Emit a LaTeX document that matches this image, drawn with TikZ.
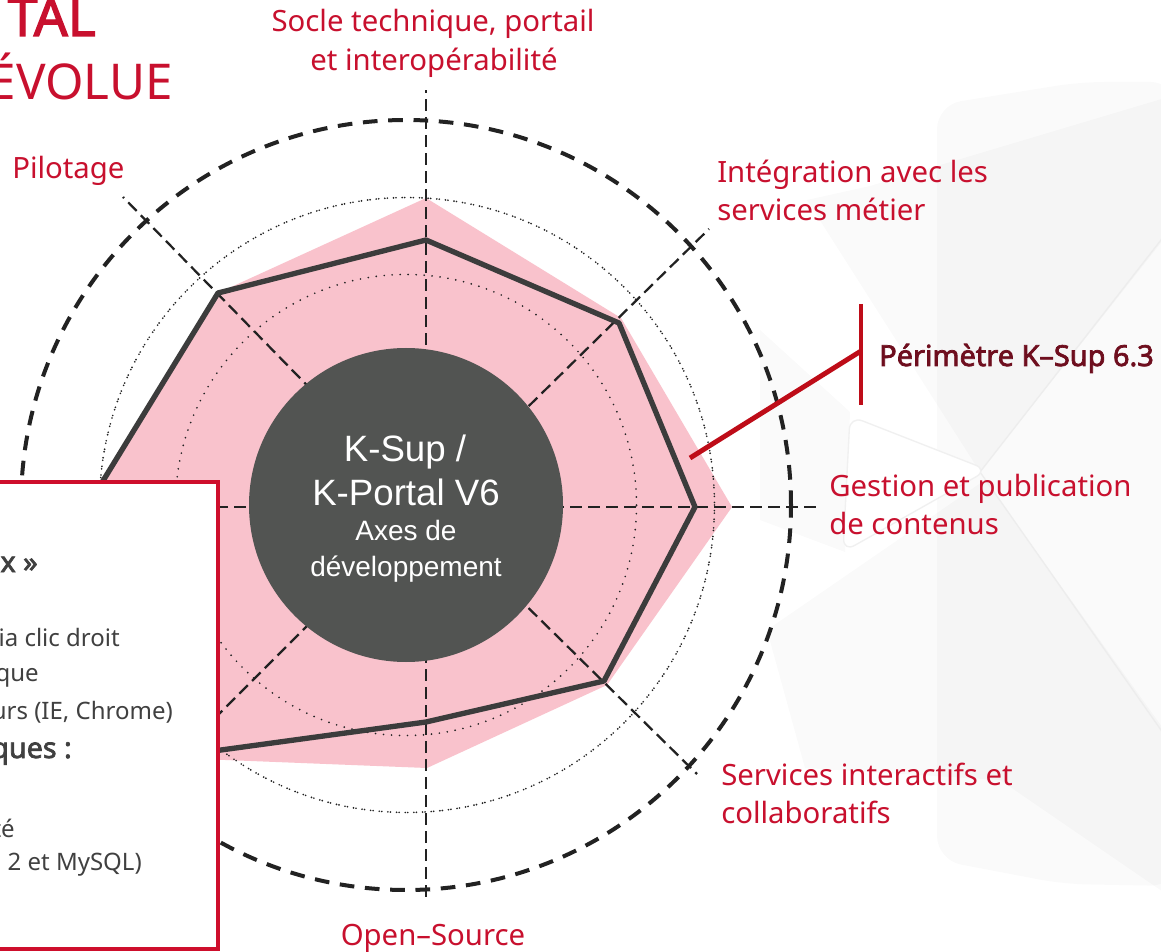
\documentclass[tikz,border=0pt]{standalone}
\usepackage{fontspec}
\setmainfont{Noto Sans}
\newfontfamily\nbold{Noto Sans}[FakeBold=2.5]
\newfontfamily\hubfont{Liberation Sans}
\definecolor{lab}{RGB}{200,16,46}
\definecolor{boxred}{RGB}{206,14,44}
\definecolor{perim}{RGB}{110,14,30}
\definecolor{brk}{RGB}{190,12,24}
\definecolor{pinkfill}{RGB}{249,194,204}
\definecolor{hubgray}{RGB}{82,84,82}
\definecolor{polyline}{RGB}{60,60,60}
\definecolor{ink}{RGB}{34,34,34}
\definecolor{bodytxt}{RGB}{64,64,64}
\begin{document}
\begin{tikzpicture}[x=0.75pt,y=-0.75pt,
  lbl/.style={inner sep=0pt, text=lab, font=\fontsize{22}{26}\selectfont},
  boxtxt/.style={inner sep=0pt, anchor=base east, text=bodytxt, font=\fontsize{18}{22}\selectfont},
  boxbold/.style={inner sep=0pt, anchor=base east, text=bodytxt, font=\nbold\fontsize{21.5}{24}\selectfont},
  hubtxt/.style={inner sep=0pt, anchor=base, text=white},
  axisline/.style={draw=ink, line width=1.7pt, dash pattern=on 9pt off 4.5pt},
  ringline/.style={draw=ink, line width=3pt, dash pattern=on 11pt off 8pt},
  wm/.style={fill=black, fill opacity=0.018, draw=none},
]
\path[use as bounding box] (0,0) rectangle (1161,952);
\clip (0,0) rectangle (1161,952);
\fill[white] (0,0) rectangle (1161,952);

% faint watermark logo
\path[wm, rounded corners=18pt] (937,105) -- (1080,82) -- (1175,82) -- (1175,886) -- (1063,884) -- (937,860) -- cycle;
\path[wm] (807,200) -- (870,186) -- (1175,95) -- (1175,225) -- (980,472) -- cycle;
\path[wm] (767,630) -- (985,480) -- (1175,745) -- (1175,900) -- (1000,780) -- (805,768) -- cycle;
\path[wm] (760,330) -- (850,412) -- (845,552) -- (760,520) -- cycle;
\draw[black!7, line width=1pt] (980,472) -- (1175,222);
\draw[black!7, line width=1pt] (980,472) -- (1175,750);
\draw[black!6, fill=white, line width=1pt, rounded corners=10pt] (850,416) -- (988,470) -- (843,552) -- cycle;

% centre of the axes
\coordinate (O) at (426,507);
\coordinate (aN) at (426,90);
\coordinate (aNE) at (709,229);
\coordinate (aE) at (822,507);
\coordinate (aSE) at (697,774);
\coordinate (aS) at (426,903);
\coordinate (aSW) at (150,783);
\coordinate (aW) at (150,507);
\coordinate (aNW) at (123,197);

% pink area
\fill[pinkfill] (426,198) -- (621,318) -- (732,507) -- (607,685) -- (427,768) -- (175,758) -- (87,507) -- (218,293) -- cycle;

% dotted rings
\draw[ink, line width=1.4pt, line cap=round, dash pattern=on 0pt off 6pt] (406,505) circle[radius=172.9pt];
\draw[ink, line width=1.4pt, line cap=round, dash pattern=on 0pt off 1.9pt on 0pt off 4.6pt] (407,505) circle[radius=230.6pt];

% axes
\foreach \e in {aN,aNE,aE,aSE,aS,aSW,aW,aNW} \draw[axisline] (O) -- (\e);

% dark polygon
\draw[polyline, line width=4pt, line join=round] (426,240) -- (619,323) -- (695,507) -- (604,681) -- (426,722) -- (177,756) -- (87,507) -- (218,293) -- cycle;

% hub
\node[circle, fill=hubgray, minimum size=235.5pt, inner sep=0pt] (hub) at (406,505) {};
\node[hubtxt, font=\hubfont\fontsize{27.5}{30}\selectfont] (h1) at (405,461) {K-Sup /};
\node[hubtxt, font=\hubfont\fontsize{27.5}{30}\selectfont] (h2) at (406,505) {K-Portal V6};
\node[hubtxt, font=\hubfont\fontsize{21}{24}\selectfont] (h3) at (406,540) {Axes de};
\node[hubtxt, font=\hubfont\fontsize{21}{24}\selectfont] (h4) at (406,576) {développement};

% outer dashed ring
\draw[ringline] (406,505) circle[radius=288.75pt];

% perimeter bracket
\coordinate (pstart) at (690,458);
\coordinate (pjoin) at (861,351);
\coordinate (ptop) at (861,304);
\coordinate (pbot) at (861,405);
\draw[brk, line width=3.7pt] (pstart) -- (pjoin);
\draw[brk, line width=3.7pt] (ptop) -- (pbot);
\node[inner sep=0pt, anchor=base west, text=perim, font=\nbold\fontsize{21.7}{26}\selectfont] (perimlbl) at (879,366) {Périmètre K–Sup 6.3};

% left text box
\draw[boxred, fill=white, line width=3.4pt] (-30,482) rectangle (218,949);
\node[boxbold] (b1) at (38,572) {x »};
\node[boxtxt] (b2) at (120,646) {via clic droit};
\node[boxtxt] (b3) at (39,681) {que};
\node[boxtxt] (b4) at (173,719) {urs (IE, Chrome)};
\node[boxbold] (b5) at (72,758) {ques :};
\node[boxtxt] (b6) at (15,837) {té};
\node[boxtxt] (b7) at (142,870) {2 et MySQL)};

% axis labels
\node[lbl, anchor=base] (l1a) at (433,32) {Socle technique, portail};
\node[lbl, anchor=base] (l1b) at (434,71) {et interopérabilité};
\node[lbl, anchor=base west] (l2a) at (717,183) {Intégration avec les};
\node[lbl, anchor=base west] (l2b) at (717,221) {services métier};
\node[lbl, anchor=base west] (l3a) at (829,496) {Gestion et publication};
\node[lbl, anchor=base west] (l3b) at (829,534) {de contenus};
\node[lbl, anchor=base west] (l4a) at (721,785) {Services interactifs et};
\node[lbl, anchor=base west] (l4b) at (721,823) {collaboratifs};
\node[lbl, anchor=base] (l5) at (433,945) {Open–Source};
\node[lbl, anchor=base west] (l8) at (12,179) {Pilotage};

% title fragments
\node[inner sep=0pt, anchor=base east, text=lab, font=\nbold\fontsize{40}{44}\selectfont] (t1) at (96,36) {TAL};
\node[inner sep=0pt, anchor=base east, text=lab, font=\fontsize{37}{44}\selectfont] (t2) at (173,100) {ÉVOLUE};
\end{tikzpicture}
\end{document}
